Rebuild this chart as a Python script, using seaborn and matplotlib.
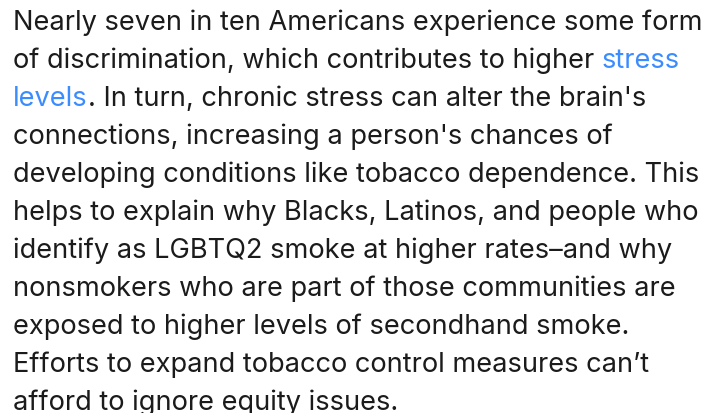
import matplotlib
matplotlib.use("Agg")
import matplotlib.pyplot as plt
import seaborn as sns

# paragraph, one entry per rendered line; each line is a list of (text, is_link)
lines = [
    [("Nearly seven in ten Americans experience some form", False)],
    [("of discrimination, which contributes to higher ", False), ("stress", True)],
    [("levels", True), (". In turn, chronic stress can alter the brain's", False)],
    [("connections, increasing a person's chances of", False)],
    [("developing conditions like tobacco dependence. This", False)],
    [("helps to explain why Blacks, Latinos, and people who", False)],
    [("identify as LGBTQ2 smoke at higher rates\u2013and why", False)],
    [("nonsmokers who are part of those communities are", False)],
    [("exposed to higher levels of secondhand smoke.", False)],
    [("Efforts to expand tobacco control measures can\u2019t", False)],
    [("afford to ignore equity issues.", False)],
]

text_color = "#1b1b1b"
link_color = "#3b8cff"

sns.set_theme(style="white")
plt.rcParams["font.family"] = ["Inter", "DejaVu Sans"]

W, H = 711, 413
fig = plt.figure(figsize=(W / 100, H / 100), dpi=100)
ax = fig.add_axes([0, 0, 1, 1])
ax.set_xlim(0, W)
ax.set_ylim(H, 0)
ax.axis("off")

x0 = 13
first_baseline = 30
line_step = 38.0
target_width = 689  # pixel width of the first line

renderer = fig.canvas.get_renderer()


def text_width(s, size):
    t = ax.text(0, 0, s, fontsize=size)
    w = t.get_window_extent(renderer).width
    t.remove()
    return w


# pick a font size so the first line spans the same width as the reference
base = 20
full_first = "".join(s for s, _ in lines[0])
fsize = base * target_width / text_width(full_first, base)

for i, segs in enumerate(lines):
    y = first_baseline + i * line_step
    prefix = ""
    for s, link in segs:
        # offset = width(prefix + s) - width(s), robust to spaces
        if prefix:
            dx = text_width(prefix + s, fsize) - text_width(s, fsize)
        else:
            dx = 0
        ax.text(x0 + dx, y, s, fontsize=fsize, va="baseline", ha="left",
                color=link_color if link else text_color)
        prefix += s

fig.savefig("out.png", dpi=100, facecolor="white")
